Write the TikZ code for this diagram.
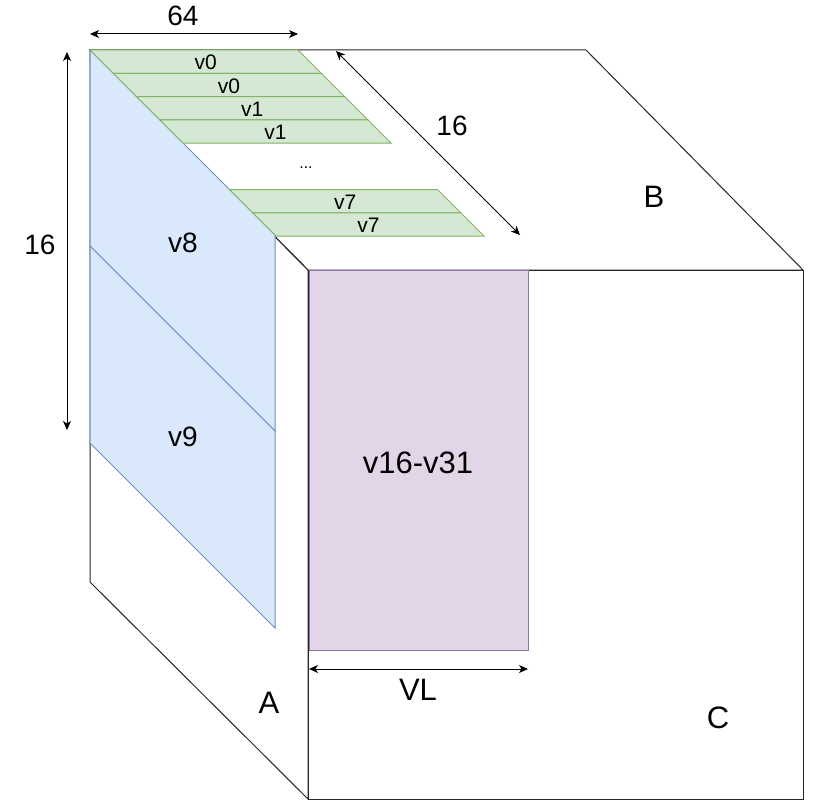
\documentclass[tikz,border=0pt]{standalone}
\usepackage{fontspec}
\setmainfont{Liberation Sans}
\usetikzlibrary{arrows.meta}
\definecolor{gfill}{HTML}{D5E8D4}
\definecolor{gline}{HTML}{82B366}
\definecolor{bfill}{HTML}{DAE8FC}
\definecolor{bline}{HTML}{6C8EBF}
\definecolor{pfill}{HTML}{E1D5E7}
\definecolor{pline}{HTML}{9673A6}
\tikzset{
  edge/.style={draw=black!85, line width=1pt, line join=miter},
  strip/.style={fill=gfill, draw=gline, line width=1pt},
  blueface/.style={fill=bfill, draw=bline, line width=1pt},
  purpface/.style={fill=pfill, draw=pline, line width=1pt},
  dimarrow/.style={draw=black, line width=1pt, {Stealth[length=9pt,width=8pt,inset=2.5pt]}-{Stealth[length=9pt,width=8pt,inset=2.5pt]}},
  smalllbl/.style={font=\fontsize{21}{23}\selectfont, inner sep=0pt},
  midlbl/.style={font=\fontsize{28}{30}\selectfont, inner sep=0pt},
  biglbl/.style={font=\fontsize{31}{33}\selectfont, inner sep=0pt}
}
\begin{document}
\begin{tikzpicture}[x=1pt,y=-1pt]
\useasboundingbox (0,0) rectangle (813,800);
\fill[white] (0,0) rectangle (813,800);
% cube
\draw[edge] (90,50) -- (586,50) -- (803,270) -- (308,270) -- cycle;
\draw[edge] (90,50) -- (308,270) -- (308,799) -- (90,582) -- cycle;
\draw[edge] (308,270) rectangle (803,799);
% blue left face parts
\draw[blueface] (90,50) -- (275,235) -- (275,431) -- (90,246) -- cycle;
\draw[blueface] (90,246) -- (275,431) -- (275,628) -- (90,443) -- cycle;
\node[midlbl] (v8) at (183,243) {v8};
\node[midlbl] (v9) at (183,437) {v9};
% green strips
\def\hh{23.25}
\foreach \s/\t [count=\i] in {0/v0,1/v0,2/v1,3/v1,6/v7,7/v7}{
  \draw[strip] (90+\hh*\s,50+\hh*\s) -- (298+\hh*\s,50+\hh*\s) -- (298+\hh*\s+\hh,50+\hh*\s+\hh) -- (90+\hh*\s+\hh,50+\hh*\s+\hh) -- cycle;
  \node[smalllbl] (g\i) at (194+\hh*\s+\hh/2, 50+\hh*\s+\hh/2+1) {\t};
}
\node[font=\fontsize{16}{18}\selectfont, inner sep=0pt] (dots) at (306,168) {...};
% purple
\draw[purpface] (309,270) rectangle (528,650);
\node[biglbl] (vv) at (418,463) {v16-v31};
% dimension arrows
\coordinate (a1) at (90,34); \coordinate (a2) at (298,34);
\draw[dimarrow] (a1) -- (a2);
\node[midlbl] (l64) at (183,16) {64};
\coordinate (b1) at (67,52); \coordinate (b2) at (67,430);
\draw[dimarrow] (b1) -- (b2);
\node[midlbl] (l16a) at (40,245) {16};
\coordinate (c1) at (336,51); \coordinate (c2) at (520,235);
\draw[dimarrow] (c1) -- (c2);
\node[midlbl] (l16b) at (452,126) {16};
\coordinate (d1) at (309,669); \coordinate (d2) at (528,669);
\draw[dimarrow] (d1) -- (d2);
\node[biglbl] (vl) at (418,690) {VL};
% face labels
\node[biglbl] (fa) at (269,703) {A};
\node[biglbl] (fb) at (654,197) {B};
\node[biglbl] (fc) at (718,718) {C};
\end{tikzpicture}
\end{document}
